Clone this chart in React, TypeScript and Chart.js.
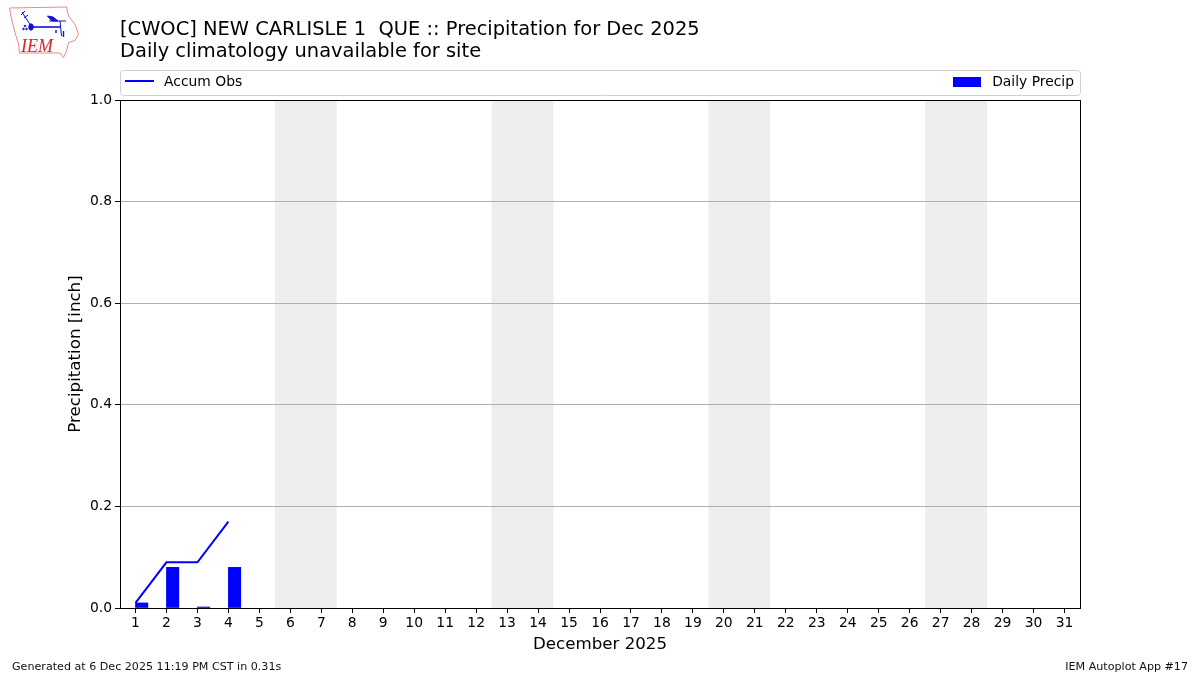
import React, { useEffect, useRef } from "react";
import { Chart, registerables } from "chart.js";

Chart.register(...registerables);

const days = Array.from({ length: 31 }, (_, i) => i + 1);
const accumDays = [1, 2, 3, 4];
const accumObs = [0.01, 0.09, 0.09, 0.17];
const precipDays = [1, 2, 3, 4];
const dailyPrecip = [0.01, 0.08, 0.002, 0.08];
const weekends = [[5.5, 7.5], [12.5, 14.5], [19.5, 21.5], [26.5, 28.5]];
const titleLines = ["[CWOC] NEW CARLISLE 1  QUE :: Precipitation for Dec 2025", "Daily climatology unavailable for site"];
const footerLeft = "Generated at 6 Dec 2025 11:19 PM CST in 0.31s";
const footerRight = "IEM Autoplot App #17";
const FONT = '"DejaVu Sans"';
const BAR_OFFSET = 0.2;

const overlay = {
  id: "overlay",
  beforeDraw(chart: any) {
    const { ctx, chartArea: a, scales } = chart;
    ctx.save();
    ctx.fillStyle = "#eeeeee";
    weekends.forEach(([s, e]) => {
      const l = scales.x.getPixelForValue(s);
      const r = scales.x.getPixelForValue(e);
      ctx.fillRect(l, a.top, r - l, a.bottom - a.top);
    });
    ctx.restore();
  },
  afterDraw(chart: any) {
    const { ctx, chartArea: a, data } = chart;
    ctx.save();
    // frame
    ctx.strokeStyle = "#000";
    ctx.lineWidth = 1;
    ctx.strokeRect(a.left + 0.5, a.top + 0.5, a.right - a.left, a.bottom - a.top);
    // titles
    ctx.fillStyle = "#000";
    ctx.textBaseline = "alphabetic";
    ctx.textAlign = "left";
    ctx.font = `19.44px ${FONT}`;
    ctx.fillText(titleLines[0], 120, 35);
    ctx.fillText(titleLines[1], 120, 57);
    // legend box
    ctx.strokeStyle = "#d0d0d0";
    ctx.beginPath();
    ctx.roundRect(120.5, 70.5, 960, 25, 3);
    ctx.stroke();
    ctx.font = `13.89px ${FONT}`;
    ctx.strokeStyle = data.datasets[0].borderColor;
    ctx.lineWidth = 2;
    ctx.beginPath();
    ctx.moveTo(125, 81);
    ctx.lineTo(154, 81);
    ctx.stroke();
    ctx.fillText(data.datasets[0].label, 164, 86);
    ctx.fillStyle = data.datasets[1].backgroundColor;
    ctx.fillRect(953, 77, 28, 10);
    ctx.fillStyle = "#000";
    ctx.textAlign = "right";
    ctx.fillText(data.datasets[1].label, 1074, 86);
    // footers
    ctx.font = `11.11px ${FONT}`;
    ctx.fillStyle = "#111";
    ctx.textAlign = "left";
    ctx.fillText(footerLeft, 12, 670);
    ctx.textAlign = "right";
    ctx.fillText(footerRight, 1188, 670);
    ctx.restore();
  },
};

function Logo() {
  return (
    <svg width={90} height={64} style={{ position: "absolute", left: 0, top: 1 }}>
      <path
        d="M9.5 7 L66.5 6 L68.5 15 L75 23.5 L78.5 33 L75 39.5 L68.5 41.5 L66.5 50 L63.5 56.5 L60 52 L19.5 52 L18.5 43 L15 31.5 L11.5 18 Z"
        fill="none"
        stroke="#e58a8a"
        strokeWidth={1}
      />
      <g stroke="#1010d8" fill="#1010d8">
        <path d="M31 26 L60 26" strokeWidth={1.6} />
        <path d="M60 20 L61.5 35" strokeWidth={1} />
        <path d="M49 20 L66 20" strokeWidth={1} />
        <path d="M22 11 L31 25" strokeWidth={1} fill="none" />
        <path d="M21 14 L25 10 M24 17 L28 14" strokeWidth={1} fill="none" />
        <ellipse cx={31} cy={26} rx={2.2} ry={3.2} />
        <path d="M47.5 15 L53 16 L58 20 L52 20 Z" />
        <path d="M56 29 L56 32 M63.5 30 L63.5 36" strokeWidth={1.4} />
        <circle cx={25} cy={25} r={0.8} />
        <circle cx={23.5} cy={28} r={0.8} />
        <circle cx={26.5} cy={28} r={0.8} />
      </g>
      <text x={21} y={51} fontFamily='"Liberation Serif"' fontStyle="italic" fontSize={18} fill="#d8232a">IEM</text>
    </svg>
  );
}

export default function App() {
  const ref = useRef<HTMLCanvasElement>(null);
  useEffect(() => {
    document.body.style.margin = "0";
    const chart = new Chart(ref.current!, {
      type: "bar",
      data: {
        datasets: [
          {
            type: "line",
            label: "Accum Obs",
            data: accumDays.map((d, i) => ({ x: d, y: accumObs[i] })),
            borderColor: "#0000ff",
            borderWidth: 2,
            pointRadius: 0,
            tension: 0,
            order: 0,
          },
          {
            type: "bar",
            label: "Daily Precip",
            data: precipDays.map((d, i) => ({ x: d + BAR_OFFSET, y: dailyPrecip[i] })),
            backgroundColor: "#0000ff",
            barThickness: 12.4,
            order: 1,
          },
        ],
      } as any,
      options: {
        animation: false,
        responsive: false,
        layout: { padding: { top: 100, right: 120, left: 0, bottom: 0 } },
        plugins: { legend: { display: false }, tooltip: { enabled: false } },
        scales: {
          x: {
            type: "linear",
            offset: false,
            min: 0.5,
            max: 31.5,
            afterBuildTicks: (s: any) => {
              s.ticks = days.map((d) => ({ value: d }));
            },
            afterFit: (s: any) => {
              s.height = 67;
            },
            grid: { display: true, offset: false, drawOnChartArea: false, drawTicks: true, tickColor: "#000", tickLength: 5 },
            border: { display: false },
            ticks: {
              autoSkip: false,
              maxRotation: 0,
              color: "#000",
              font: { family: FONT, size: 13.89 },
              padding: 2,
              callback: (v: any) => String(v),
            },
            title: {
              display: true,
              text: "December 2025",
              color: "#000",
              font: { family: FONT, size: 16.67 },
              padding: { top: 0, bottom: 20 },
            },
          },
          y: {
            min: 0,
            max: 1,
            afterFit: (s: any) => {
              s.width = 120;
            },
            grid: { color: "#b0b0b0", lineWidth: 1, tickColor: "#000", tickLength: 5 },
            border: { display: false },
            ticks: {
              stepSize: 0.2,
              color: "#000",
              font: { family: FONT, size: 13.89 },
              padding: 3,
              callback: (v: any) => Number(v).toFixed(1),
            },
            title: {
              display: true,
              text: "Precipitation [inch]",
              color: "#000",
              font: { family: FONT, size: 16.67 },
              padding: { top: 66, bottom: 0 },
            },
          },
        },
      },
      plugins: [overlay],
    } as any);
    return () => chart.destroy();
  }, []);
  return (
    <div style={{ position: "relative", width: 1200, height: 675 }}>
      <canvas ref={ref} width={1200} height={675} style={{ display: "block" }} />
      <Logo />
    </div>
  );
}
